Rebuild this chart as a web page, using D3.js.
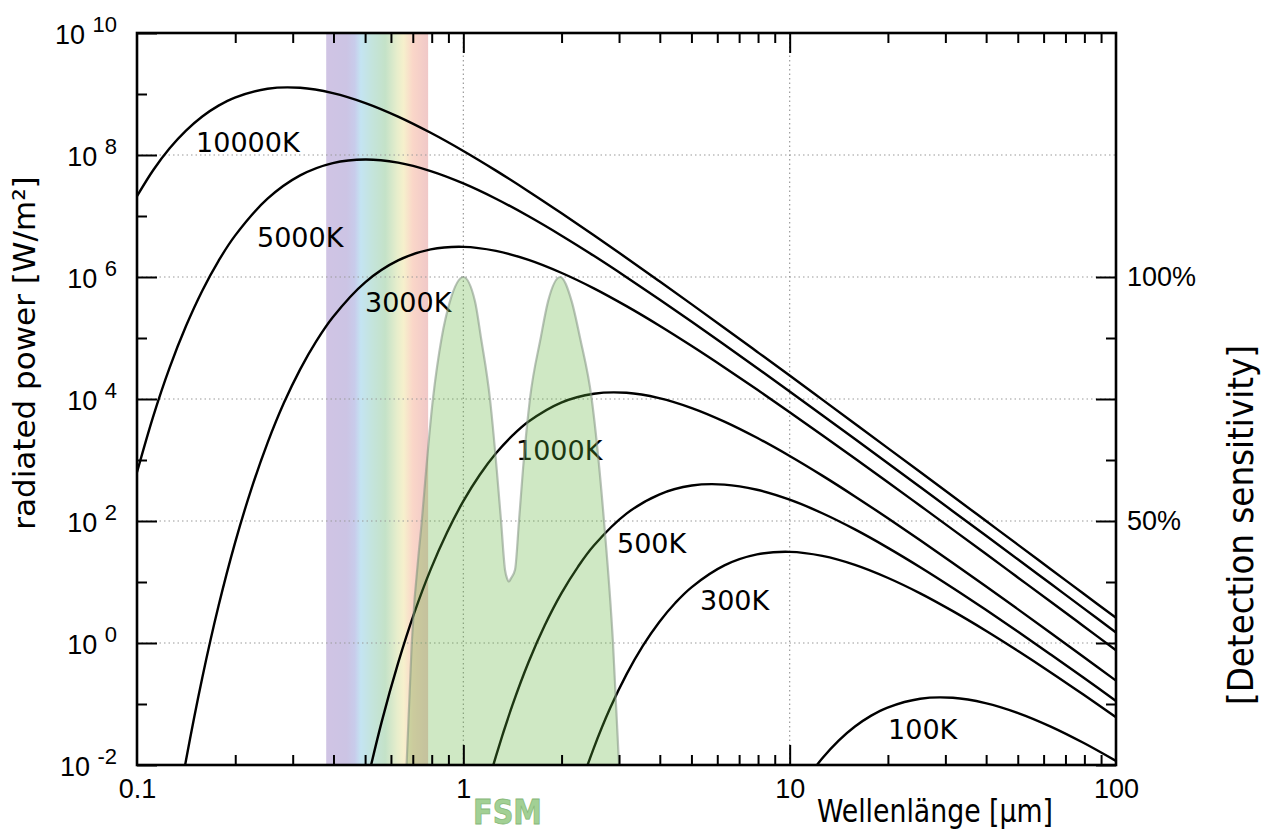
<!DOCTYPE html>
<html>
<head>
<meta charset="utf-8">
<script src="https://cdn.jsdelivr.net/npm/d3@7"></script>
<style>
  body { margin: 0; background: #fff; }
  svg { display: block; font-family: "DejaVu Sans", sans-serif; }
</style>
</head>
<body>
<svg id="chart" width="1264" height="833"></svg>
<script>
// Spectral exitance curves: [wavelength in µm, log10 of power in W/m²]
var curve10000K = [[0.1,7.325],[0.1122,7.754],[0.1259,8.110],[0.1413,8.399],[0.1585,8.631],[0.1778,8.809],[0.1995,8.942],[0.2512,9.087],[0.3162,9.102],[0.3981,9.015],[0.5012,8.852],[0.631,8.630],[0.7943,8.364],[1,8.066],[1.259,7.744],[1.585,7.403],[1.995,7.049],[2.512,6.685],[3.162,6.313],[3.981,5.934],[5.012,5.551],[6.31,5.165],[7.943,4.775],[10,4.384],[12.59,3.990],[15.85,3.595],[19.95,3.199],[25.12,2.803],[31.62,2.405],[39.81,2.007],[50.12,1.609],[63.1,1.210],[79.43,0.811],[100,0.412]];
var curve5000K = [[0.1,2.800],[0.1122,3.721],[0.1259,4.515],[0.1413,5.196],[0.1585,5.776],[0.1778,6.265],[0.1995,6.674],[0.2512,7.284],[0.3162,7.666],[0.3981,7.868],[0.5012,7.927],[0.631,7.874],[0.7943,7.736],[1,7.534],[1.259,7.283],[1.585,6.995],[1.995,6.681],[2.512,6.347],[3.162,5.997],[3.981,5.636],[5.012,5.267],[6.31,4.890],[7.943,4.509],[10,4.124],[12.59,3.735],[15.85,3.344],[19.95,2.951],[25.12,2.557],[31.62,2.161],[39.81,1.765],[50.12,1.368],[63.1,0.970],[79.43,0.572],[100,0.173]];
var curve3000K = [[0.1259,-3.472],[0.1413,-1.923],[0.1585,-0.569],[0.1778,0.610],[0.1995,1.634],[0.2239,2.519],[0.2512,3.281],[0.2818,3.933],[0.3162,4.486],[0.3548,4.953],[0.3981,5.341],[0.5012,5.917],[0.631,6.272],[0.7943,6.452],[1,6.494],[1.259,6.428],[1.585,6.281],[1.995,6.070],[2.512,5.814],[3.162,5.522],[3.981,5.205],[5.012,4.868],[6.31,4.517],[7.943,4.155],[10,3.784],[12.59,3.407],[15.85,3.025],[19.95,2.639],[25.12,2.250],[31.62,1.859],[39.81,1.466],[50.12,1.071],[63.1,0.676],[79.43,0.279],[100,-0.118]];
var curve1000K = [[0.5012,-2.395],[0.5623,-1.289],[0.631,-0.331],[0.7079,0.497],[0.7943,1.207],[0.8913,1.812],[1,2.325],[1.122,2.754],[1.259,3.110],[1.413,3.399],[1.585,3.631],[1.995,3.942],[2.512,4.087],[3.162,4.102],[3.981,4.015],[5.012,3.852],[6.31,3.630],[7.943,3.364],[10,3.066],[12.59,2.744],[15.85,2.403],[19.95,2.049],[25.12,1.685],[31.62,1.313],[39.81,0.934],[50.12,0.551],[63.1,0.165],[79.43,-0.225],[100,-0.617]];
var curve500K = [[1,-3.924],[1.122,-2.815],[1.259,-1.854],[1.413,-1.024],[1.585,-0.312],[1.778,0.295],[1.995,0.810],[2.245,1.249],[2.512,1.598],[3.162,2.121],[3.981,2.434],[5.012,2.581],[6.31,2.597],[7.943,2.512],[10,2.349],[12.59,2.127],[15.85,1.862],[19.95,1.564],[25.12,1.242],[31.62,0.902],[39.81,0.548],[50.12,0.184],[63.1,-0.189],[79.43,-0.567],[100,-0.950]];
var curve300K = [[1.995,-3.366],[2.239,-2.481],[2.512,-1.719],[2.818,-1.067],[3.162,-0.514],[3.548,-0.047],[3.981,0.341],[4.467,0.660],[5.012,0.917],[6.31,1.272],[7.943,1.452],[10,1.494],[12.59,1.428],[15.85,1.281],[19.95,1.070],[25.12,0.814],[31.62,0.522],[39.81,0.205],[50.12,-0.132],[63.1,-0.483],[79.43,-0.846],[100,-1.216]];
var curve100K = [[10,-2.676],[11.22,-2.246],[12.59,-1.891],[14.13,-1.601],[15.85,-1.370],[17.78,-1.191],[19.95,-1.058],[25.12,-0.913],[31.62,-0.898],[39.81,-0.985],[50.12,-1.148],[63.1,-1.370],[79.43,-1.636],[100,-1.934]];

var curves = [curve10000K, curve5000K, curve3000K, curve1000K, curve500K, curve300K, curve100K];
var curveNames = ["10000K", "5000K", "3000K", "1000K", "500K", "300K", "100K"];
// where each name sits: [wavelength µm, log10 power]
var curveLabelAt = [[0.1517,8.05],[0.2332,6.49],[0.4995,5.43],[1.45,3.0],[2.957,1.475],[5.312,0.541],[20.02,-1.574]];

// FSM detector sensitivity (right axis, %)
var fsmWavelength = [0.67,0.695,0.746,0.807,0.858,0.91,1.0,1.086,1.133,1.207,1.266,1.305,1.342,1.362,1.38,1.398,1.44,1.481,1.523,1.60,1.726,1.818,1.98,2.148,2.279,2.474,2.698,2.875,3.0];
var fsmSensitivity = [0,25,50,75,87.5,95,100,95,87.5,75,60.5,50,40,38.2,37.6,38.2,40,50,60.5,75,87.5,95,100,95,87.5,75,50,25,0];

var visibleBand = [0.38, 0.78];
var powerExponents = [-2, -1, 0, 1, 2, 3, 4, 5, 6, 7, 8, 9, 10];
var wavelengthLabels = [0.1, 1, 10, 100];
var sensitivityTicks = [0, 12.5, 25, 37.5, 50, 62.5, 75, 87.5, 100];
var sensitivityLabels = [50, 100];

var m = { l: 137, r: 1116, t: 33, b: 765 };
var svg = d3.select("#chart");

var x = d3.scaleLog().domain([0.1, 100]).range([m.l, m.r]);
var y = d3.scaleLog().domain([1e-2, 1e10]).range([m.b, m.t]);
var ySens = d3.scaleLinear().domain([0, 100]).range([m.b, y(1e6)]);

var defs = svg.append("defs");
defs.append("clipPath").attr("id", "plot")
    .append("rect").attr("x", m.l).attr("y", m.t).attr("width", m.r - m.l).attr("height", m.b - m.t);

// pastel rainbow for the visible part of the spectrum
var grad = defs.append("linearGradient").attr("id", "rainbow");
[[0, "#d0c4e4"], [0.2, "#ccc4e4"], [0.28, "#c8cceb"], [0.34, "#c4e4f2"], [0.45, "#c4e4dc"],
 [0.58, "#c4e2c8"], [0.7, "#e8eecc"], [0.76, "#f6f0cc"], [0.85, "#fad6c8"], [1, "#f0c8c8"]]
    .forEach(function (s) { grad.append("stop").attr("offset", s[0]).attr("stop-color", s[1]); });

svg.append("rect")
    .attr("x", x(visibleBand[0])).attr("y", m.t)
    .attr("width", x(visibleBand[1]) - x(visibleBand[0])).attr("height", m.b - m.t)
    .attr("fill", "url(#rainbow)");

// dotted grid
var grid = svg.append("g").attr("stroke", "#9a9a9a").attr("stroke-width", 1.2).attr("stroke-dasharray", "1.5,3");
grid.selectAll("line.v").data([1, 10]).enter().append("line")
    .attr("x1", d => x(d)).attr("x2", d => x(d)).attr("y1", m.t).attr("y2", m.b);
grid.selectAll("line.h").data([1e0, 1e2, 1e4, 1e6, 1e8]).enter().append("line")
    .attr("y1", d => y(d)).attr("y2", d => y(d)).attr("x1", m.l).attr("x2", m.r);

// black-body curves
var line = d3.line()
    .x(d => x(d[0]))
    .y(d => y(Math.pow(10, d[1])))
    .curve(d3.curveCatmullRom.alpha(0.5));

var plot = svg.append("g").attr("clip-path", "url(#plot)");
plot.selectAll("path.curve").data(curves).enter().append("path")
    .attr("class", "curve")
    .attr("d", line)
    .attr("fill", "none")
    .attr("stroke", "#000")
    .attr("stroke-width", 2.4);

svg.append("g").selectAll("text").data(curveNames).enter().append("text")
    .attr("x", (d, i) => x(curveLabelAt[i][0]))
    .attr("y", (d, i) => y(Math.pow(10, curveLabelAt[i][1])))
    .attr("font-size", 27)
    .text(d => d);

// FSM sensitivity, drawn over everything as a translucent green
var fsm = fsmWavelength.map((w, i) => [w, fsmSensitivity[i]]);
svg.append("path").datum(fsm)
    .attr("d", d3.area().x(d => x(d[0])).y0(m.b).y1(d => ySens(d[1])).curve(d3.curveMonotoneX))
    .attr("fill", "rgb(95,178,58)")
    .attr("fill-opacity", 0.3);
svg.append("path").datum(fsm)
    .attr("d", d3.line().x(d => x(d[0])).y(d => ySens(d[1])).curve(d3.curveMonotoneX))
    .attr("fill", "none")
    .attr("stroke", "rgba(130,145,130,0.55)")
    .attr("stroke-width", 2.2);

// ticks
function ticks(axis, tx, ty) {
    var g = svg.append("g").attr("transform", "translate(" + tx + "," + ty + ")").call(axis);
    g.select(".domain").remove();
    g.selectAll(".tick line").attr("stroke", "#000").attr("stroke-width", 2);
    return g;
}
var decades = [0.1, 1, 10];
var minorX = [];
decades.forEach(function (d) { for (var k = 2; k <= 9; k++) minorX.push(d * k); });

ticks(d3.axisTop(x).tickValues([1, 10]).tickSize(20).tickFormat(""), 0, m.b);
ticks(d3.axisTop(x).tickValues(minorX).tickSize(10).tickFormat(""), 0, m.b);
ticks(d3.axisBottom(x).tickValues([1, 10]).tickSize(20).tickFormat(""), 0, m.t);
ticks(d3.axisBottom(x).tickValues(minorX).tickSize(10).tickFormat(""), 0, m.t);

var evenExp = powerExponents.filter(e => e % 2 === 0);
var oddExp = powerExponents.filter(e => e % 2 !== 0);
ticks(d3.axisRight(y).tickValues(evenExp.map(e => Math.pow(10, e))).tickSize(20).tickFormat(""), m.l, 0);
ticks(d3.axisRight(y).tickValues(oddExp.map(e => Math.pow(10, e))).tickSize(10).tickFormat(""), m.l, 0);

ticks(d3.axisLeft(ySens).tickValues(sensitivityTicks.filter(v => v % 25 === 0)).tickSize(20).tickFormat(""), m.r, 0);
ticks(d3.axisLeft(ySens).tickValues(sensitivityTicks.filter(v => v % 25 !== 0)).tickSize(10).tickFormat(""), m.r, 0);

// tick labels
var bx = ticks(d3.axisBottom(x).tickValues(wavelengthLabels).tickSize(0).tickFormat(d3.format("~g")), 0, m.b);
bx.selectAll("text").attr("y", 33).attr("dy", null).attr("font-size", 27).attr("fill", "#000").attr("font-family", null);

var ly = ticks(d3.axisLeft(y).tickValues(evenExp.map(e => Math.pow(10, e))).tickSize(0).tickPadding(20), m.l, 0);
ly.selectAll("text").each(function (d) {
    var t = d3.select(this).text(null).attr("dy", "0.38em").attr("font-size", 27)
        .attr("fill", "#000").attr("font-family", null);
    t.append("tspan").text("10 ");
    t.append("tspan").attr("font-size", 22).attr("dy", -12).text(Math.round(Math.log10(d)));
});

var ry = ticks(d3.axisRight(ySens).tickValues(sensitivityLabels).tickSize(0).tickPadding(11).tickFormat(d => d + "%"), m.r, 0);
ry.selectAll("text").attr("font-size", 27).attr("fill", "#000").attr("font-family", null);

// frame
svg.append("rect")
    .attr("x", m.l).attr("y", m.t).attr("width", m.r - m.l).attr("height", m.b - m.t)
    .attr("fill", "none").attr("stroke", "#000").attr("stroke-width", 2.6);

// titles
svg.append("text")
    .attr("transform", "translate(35,353) rotate(-90)")
    .attr("text-anchor", "middle")
    .attr("font-size", 31)
    .text("radiated power [W/m²]");

svg.append("text")
    .attr("x", 817).attr("y", 822)
    .attr("font-size", 32)
    .attr("font-family", "'DejaVu Sans Condensed', 'DejaVu Sans', sans-serif")
    .attr("textLength", 236).attr("lengthAdjust", "spacingAndGlyphs")
    .text("Wellenlänge [µm]");

svg.append("text")
    .attr("transform", "translate(1253,525) rotate(-90)")
    .attr("text-anchor", "middle")
    .attr("font-size", 36)
    .attr("font-family", "'DejaVu Sans Condensed', 'DejaVu Sans', sans-serif")
    .attr("textLength", 360).attr("lengthAdjust", "spacingAndGlyphs")
    .text("[Detection sensitivity]");

svg.append("text")
    .attr("x", 473).attr("y", 824)
    .attr("font-size", 33).attr("font-weight", "bold")
    .attr("fill", "#a2d094").attr("stroke", "#86b878").attr("stroke-width", 0.8)
    .attr("textLength", 69).attr("lengthAdjust", "spacingAndGlyphs")
    .text("FSM");
</script>
</body>
</html>
